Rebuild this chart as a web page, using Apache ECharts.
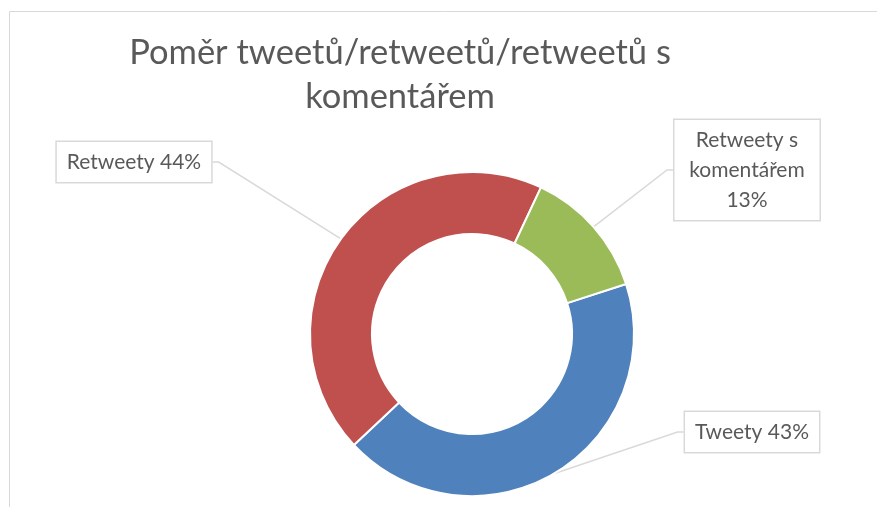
<!DOCTYPE html>
<html>
<head>
<meta charset="utf-8">
<script src="https://cdn.jsdelivr.net/npm/echarts@6/dist/echarts.min.js"></script>
<style>
  html, body { margin: 0; padding: 0; background: #fff; }
  #chart { width: 877px; height: 507px; }
</style>
</head>
<body>
<div id="chart"></div>
<script>
// == Data ====================================================================

const categories = ['Tweety', 'Retweety', 'Retweety s komentářem']
const shares = [43, 44, 13]
const labelTexts = ['Tweety 43%', 'Retweety 44%', 'Retweety s\nkomentářem\n13%']

// == Look ====================================================================

const colors = ['#4F81BD', '#C0504D', '#9BBB59']
const font = 'Lato'
const textColor = '#595959'
// label box centres, in px
const labelSpots = [[752, 432], [134, 162], [747, 170]]
const labelWidths = [null, null, 125]

const chart = echarts.init(document.getElementById('chart'), null, {renderer: 'canvas'})

const data = categories.map((name, i) => ({
  name,
  value: shares[i],
  itemStyle: {color: colors[i]},
  label: {
    formatter: labelTexts[i],
    width: labelWidths[i] || undefined
  }
}))

chart.setOption({
  animation: false,
  graphic: [
    {
      type: 'rect',
      shape: {x: 9.5, y: 11.5, width: 900, height: 600},
      style: {fill: 'none', stroke: '#D9D9D9', lineWidth: 1},
      silent: true
    },
    {
      type: 'text',
      style: {
        text: 'Poměr tweetů/retweetů/retweetů s\nkomentářem',
        x: 400,
        y: 31,
        align: 'center',
        verticalAlign: 'top',
        fontFamily: font,
        fontSize: 34.5,
        lineHeight: 44,
        fill: textColor
      }
    }
  ],
  series: [{
    type: 'pie',
    center: [472, 334],
    radius: [100, 162],
    startAngle: 18,
    clockwise: true,
    avoidLabelOverlap: false,
    itemStyle: {borderColor: '#fff', borderWidth: 2},
    label: {
      show: true,
      position: 'outside',
      color: textColor,
      fontFamily: font,
      fontSize: 21,
      lineHeight: 30,
      align: 'center',
      backgroundColor: '#fff',
      borderColor: '#D9D9D9',
      borderWidth: 1.5,
      padding: [5, 10]
    },
    labelLine: {
      show: true,
      length: 14,
      length2: 6,
      lineStyle: {color: '#D9D9D9', width: 1.5}
    },
    labelLayout: function (params) {
      const spot = labelSpots[params.dataIndex]
      return {x: spot[0], y: spot[1], align: 'center', verticalAlign: 'middle'}
    },
    data
  }]
})
</script>
</body>
</html>
